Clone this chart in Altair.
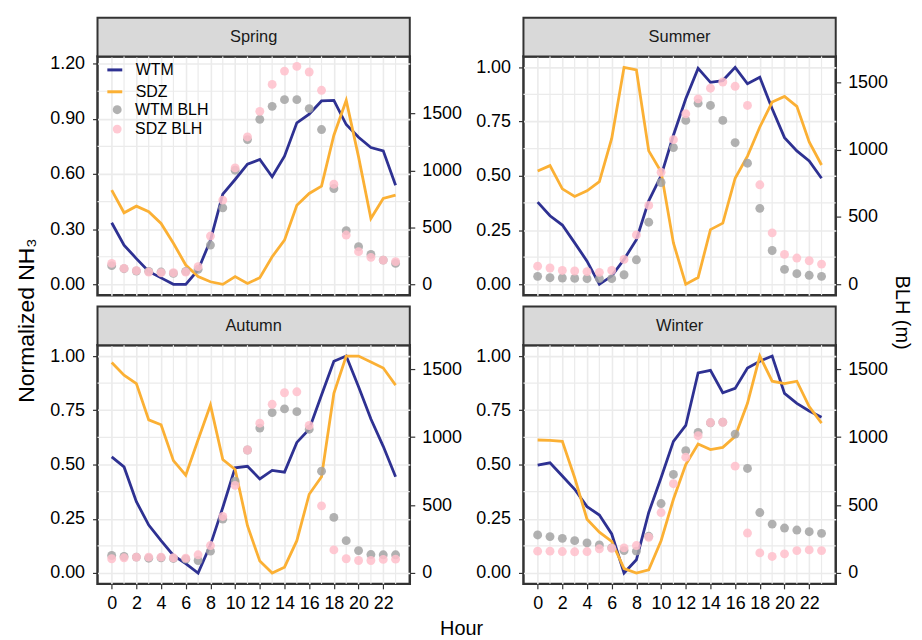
import altair as alt
import pandas as pd

HOURS = list(range(24))
X_TICKS = list(range(0, 24, 2))
X_MINOR = list(range(1, 24, 2))

SPRING_WTM = [0.335, 0.213, 0.14, 0.07, 0.035, 0.0, 0.0, 0.078, 0.24, 0.49, 0.57, 0.653,
              0.679, 0.585, 0.697, 0.878, 0.925, 0.997, 1.0, 0.869, 0.80, 0.744, 0.726, 0.539]
SPRING_SDZ = [0.512, 0.389, 0.425, 0.395, 0.331, 0.223, 0.105, 0.042, 0.014, 0.0, 0.042, 0.005,
              0.036, 0.15, 0.24, 0.43, 0.494, 0.534, 0.811, 1.0, 0.693, 0.358, 0.467, 0.485]
SPRING_WTM_BLH = [164, 137, 117, 114, 108, 96, 114, 132, 345, 672, 1003, 1272,
                  1450, 1564, 1623, 1623, 1544, 1360, 842, 471, 330, 263, 213, 184]
SPRING_SDZ_BLH = [184, 140, 120, 108, 102, 102, 108, 155, 424, 740, 1023, 1295,
                  1520, 1757, 1874, 1915, 1866, 1705, 880, 433, 287, 237, 213, 199]

SUMMER_WTM = [0.379, 0.316, 0.273, 0.191, 0.107, 0.0, 0.038, 0.115, 0.206, 0.385, 0.5, 0.687,
              0.855, 0.995, 0.931, 0.939, 1.0, 0.924, 0.954, 0.809, 0.676, 0.615, 0.569, 0.489]
SUMMER_SDZ = [0.522, 0.547, 0.44, 0.405, 0.431, 0.473, 0.672, 1.0, 0.988, 0.615, 0.519, 0.191,
              0.0, 0.031, 0.252, 0.282, 0.489, 0.591, 0.725, 0.84, 0.866, 0.82, 0.656, 0.55]
SUMMER_WTM_BLH = [59, 49, 47, 44, 42, 42, 42, 71, 182, 461, 756, 1015,
                  1217, 1345, 1328, 1217, 1052, 899, 564, 251, 111, 79, 67, 59]
SUMMER_SDZ_BLH = [135, 121, 103, 99, 94, 89, 103, 185, 367, 586, 832, 1074,
                  1266, 1377, 1456, 1502, 1470, 1328, 739, 382, 222, 195, 175, 150]

AUTUMN_WTM = [0.535, 0.489, 0.329, 0.221, 0.149, 0.081, 0.043, 0.0, 0.13, 0.302, 0.485, 0.492,
              0.434, 0.473, 0.465, 0.602, 0.663, 0.82, 0.976, 1.0, 0.858, 0.71, 0.584, 0.444]
AUTUMN_SDZ = [0.97, 0.912, 0.873, 0.706, 0.683, 0.518, 0.451, 0.614, 0.774, 0.523, 0.477, 0.218,
              0.055, 0.0, 0.027, 0.149, 0.363, 0.444, 0.828, 1.0, 1.0, 0.973, 0.945, 0.866]
AUTUMN_WTM_BLH = [129, 122, 117, 109, 112, 107, 102, 92, 161, 397, 676, 905,
                  1066, 1180, 1207, 1187, 1058, 749, 409, 238, 165, 136, 134, 134]
AUTUMN_SDZ_BLH = [105, 112, 117, 117, 117, 112, 109, 134, 202, 416, 645, 905,
                  1102, 1241, 1326, 1333, 1085, 494, 170, 105, 92, 92, 100, 102]

WINTER_WTM = [0.497, 0.508, 0.447, 0.386, 0.306, 0.267, 0.18, 0.0, 0.061, 0.279, 0.439, 0.607,
              0.68, 0.922, 0.934, 0.831, 0.851, 0.945, 0.976, 1.0, 0.828, 0.782, 0.747, 0.718]
WINTER_SDZ = [0.613, 0.611, 0.607, 0.439, 0.248, 0.188, 0.146, 0.02, 0.0, 0.015, 0.149, 0.34,
              0.5, 0.595, 0.569, 0.579, 0.63, 0.782, 1.0, 0.884, 0.873, 0.884, 0.767, 0.691]
WINTER_WTM_BLH = [280, 268, 255, 238, 221, 207, 185, 165, 161, 270, 511, 725,
                  900, 1034, 1105, 1110, 1022, 769, 445, 360, 331, 316, 304, 292]
WINTER_SDZ_BLH = [161, 161, 158, 156, 158, 178, 182, 185, 202, 263, 445, 657,
                  852, 1010, 1107, 1109, 786, 294, 148, 122, 141, 165, 170, 165]

TICKS_SPRING = [0.0, 0.3, 0.6, 0.9, 1.2]
MINOR_SPRING = [0.15, 0.45, 0.75, 1.05]
TICKS_OTHER = [0.0, 0.25, 0.5, 0.75, 1.0]
MINOR_OTHER = [0.125, 0.375, 0.625, 0.875]
BLH_TICKS = [0, 500, 1000, 1500]

LINE_SERIES = ["WTM", "SDZ"]
POINT_SERIES = ["WTM BLH", "SDZ BLH"]

FONT = "Liberation Sans"
BLUE = "#2E3192"
ORANGE = "#FBB034"
GREY = "#A3A3A3"
PINK = "#FFC0CB"
W, H = 314, 240

line_legend = alt.Legend(title=None, orient="none", legendX=8.4, legendY=4.5,
                         symbolType="stroke", symbolSize=225, symbolStrokeWidth=3,
                         labelFontSize=16, labelFont=FONT, labelColor="#000000",
                         labelOffset=12, rowPadding=5, padding=0)
point_legend = alt.Legend(title=None, orient="none", legendX=11.8, legendY=45.5,
                          symbolType="circle", symbolSize=80,
                          labelFontSize=16, labelFont=FONT, labelColor="#000000",
                          labelOffset=10, rowPadding=3.5, padding=0)


def panel(name, wtm, sdz, wtm_blh, sdz_blh, ydom, yticks, yminor, yfmt, factor,
          bottom, left_title=False, right_title=False, x_title=False, anchor=False):
    lines_df = pd.DataFrame({"hour": HOURS * 2, "value": wtm + sdz,
                             "series": [LINE_SERIES[0]] * 24 + [LINE_SERIES[1]] * 24})
    pts_df = pd.DataFrame({"hour": HOURS * 2, "blh": wtm_blh + sdz_blh,
                           "series": [POINT_SERIES[0]] * 24 + [POINT_SERIES[1]] * 24})

    xscale = alt.Scale(domain=[-1.15, 24.15], nice=False, zero=False)
    xkw = dict(values=X_TICKS, grid=True, labels=bottom, ticks=bottom, domain=False,
               labelPadding=6)
    if x_title:
        xkw.update(title="Hour", titleX=365.6, titleY=45, titleAlign="center",
                   titleBaseline="middle", titleFontSize=20)
    else:
        xkw.update(title=None)
    xaxis = alt.Axis(**xkw)

    yscale = alt.Scale(domain=ydom, nice=False, zero=False)
    ykw = dict(values=yticks, format=yfmt, grid=True, domain=False, labelPadding=8)
    if left_title:
        ykw.update(title="Normalized  NH₃", titleX=-71.4, titleY=265, titleAngle=270,
                   titleAlign="center", titleBaseline="middle", titleFontSize=23)
    else:
        ykw.update(title=None)
    yaxis = alt.Axis(**ykw)

    rkw = dict(values=BLH_TICKS, format="d", grid=False, domain=False, orient="right",
               labelPadding=7)
    if right_title:
        rkw.update(title="BLH (m)", titleX=66.6, titleY=257, titleAngle=90,
                   titleAlign="center", titleBaseline="middle", titleFontSize=20)
    else:
        rkw.update(title=None)
    raxis = alt.Axis(**rkw)

    x_enc = alt.X("hour:Q", scale=xscale, axis=xaxis)

    lab = pd.DataFrame({"label": [name]})
    strip = alt.Chart(lab).mark_rect(fill="#D9D9D9", stroke="#333333", strokeWidth=2).encode(
        x=alt.value(0), x2=alt.value(W), y=alt.value(-39), y2=alt.value(0))
    strip_text = alt.Chart(lab).mark_text(fontSize=16.5, font=FONT, color="#1A1A1A").encode(
        x=alt.value(W / 2), y=alt.value(-19.5), text="label:N")

    vmin = alt.Chart(pd.DataFrame({"hour": X_MINOR})).mark_rule(
        color="#EBEBEB", strokeWidth=1.2).encode(x=x_enc)
    hmin = alt.Chart(pd.DataFrame({"value": yminor})).mark_rule(
        color="#EBEBEB", strokeWidth=1.2).encode(
        y=alt.Y("value:Q", scale=yscale, axis=yaxis))

    lines = alt.Chart(lines_df).mark_line(strokeWidth=2.8).encode(
        x=x_enc,
        y=alt.Y("value:Q", scale=yscale, axis=yaxis),
        stroke=alt.Stroke("series:N", sort=LINE_SERIES,
                          scale=alt.Scale(domain=LINE_SERIES, range=[BLUE, ORANGE]),
                          legend=line_legend),
    )

    inner_layers = [strip, strip_text, vmin, hmin, lines]
    if anchor:
        anc = alt.Chart(lab).mark_rect(fill="white").encode(
            x=alt.value(-88.4), x2=alt.value(-87.4), y=alt.value(-44.8), y2=alt.value(-43.8))
        inner_layers.append(anc)
    inner = alt.layer(*inner_layers)

    pts = alt.Chart(pts_df).mark_circle(size=80, opacity=0.85).encode(
        x=x_enc,
        y=alt.Y("blh:Q", scale=alt.Scale(domain=[ydom[0] * factor, ydom[1] * factor],
                                         nice=False, zero=False), axis=raxis),
        fill=alt.Fill("series:N", sort=POINT_SERIES,
                      scale=alt.Scale(domain=POINT_SERIES, range=[GREY, PINK]),
                      legend=point_legend),
    )

    return alt.layer(inner, pts).resolve_scale(y="independent").properties(width=W, height=H)


sp = panel("Spring", SPRING_WTM, SPRING_SDZ, SPRING_WTM_BLH, SPRING_SDZ_BLH,
           [-0.059, 1.239], TICKS_SPRING, MINOR_SPRING, ".2f", 1616,
           bottom=False, left_title=True, anchor=True)
su = panel("Summer", SUMMER_WTM, SUMMER_SDZ, SUMMER_WTM_BLH, SUMMER_SDZ_BLH,
           [-0.05, 1.05], TICKS_OTHER, MINOR_OTHER, ".2f", 1611,
           bottom=False, right_title=True)
au = panel("Autumn", AUTUMN_WTM, AUTUMN_SDZ, AUTUMN_WTM_BLH, AUTUMN_SDZ_BLH,
           [-0.05, 1.05], TICKS_OTHER, MINOR_OTHER, ".2f", 1596,
           bottom=True, x_title=True)
wi = panel("Winter", WINTER_WTM, WINTER_SDZ, WINTER_WTM_BLH, WINTER_SDZ_BLH,
           [-0.05, 1.05], TICKS_OTHER, MINOR_OTHER, ".2f", 1596,
           bottom=True)

chart = alt.concat(sp, su, au, wi, columns=2,
                   spacing={"row": 50.3, "column": 114.3},
                   bounds="flush").properties(padding=0)

chart = chart.configure(font=FONT).configure_view(
    stroke="#333333", strokeWidth=2.5
).configure_axis(
    labelFont=FONT, titleFont=FONT, labelFontSize=18, labelColor="#000000",
    titleColor="#000000", titleFontWeight="normal", tickColor="#333333",
    tickWidth=1.2, tickSize=5, gridColor="#EBEBEB", gridWidth=1.6
)

chart.save("out.html", embed_options={"renderer": "svg", "actions": False})
